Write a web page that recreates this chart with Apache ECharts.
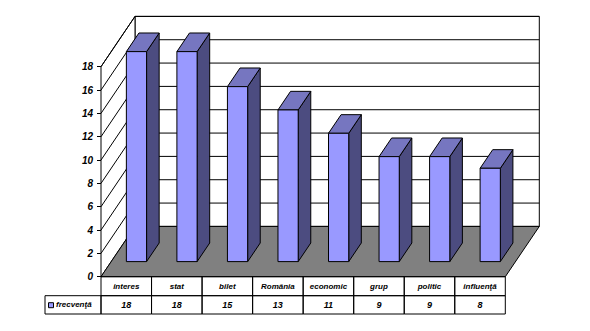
<!DOCTYPE html>
<html><head><meta charset="utf-8">
<script src="https://cdn.jsdelivr.net/npm/echarts@6/dist/echarts.min.js"></script>
<style>html,body{margin:0;padding:0;background:#fff}#c{width:590px;height:331px}</style>
</head><body><div id="c"></div>
<script>
// ---- data ----
const categories = ['interes', 'stat', 'bilet', 'România', 'economic', 'grup', 'politic', 'influenţă'];
const frecventa = [18, 18, 15, 13, 11, 9, 9, 8];
const seriesName = 'frecvenţă';
const yMin = 0, yMax = 18, yStep = 2;
const gridValues = [2, 4, 6, 8, 10, 12, 14, 16, 18];

// ---- style ----
const DX = 34, DY = -50.3;          // depth projection of the 3D box
const F0 = 0.30, F1 = 0.67;         // bar depth range (fraction of box depth)
const BARW = 0.4;                   // bar width fraction of category
const FRONT = '#9999FF', TOP = '#7676C0', SIDE = '#4C4C80', FLOOR = '#808080';
const FONT = 'Liberation Sans, Arial, sans-serif';
const ROW1 = 19, ROW2 = 18.3, LEGW = 56;

const chart = echarts.init(document.getElementById('c'), null, {renderer: 'svg'});

function renderBox(params, api) {
  const cs = params.coordSys;
  const L = cs.x, R = cs.x + cs.width;
  const y0 = api.coord([0, yMin])[1];
  const yT = api.coord([0, yMax])[1];
  const ln = {stroke: '#000', lineWidth: 1};
  const ch = [];
  // back wall
  ch.push({type: 'polygon', shape: {points: [[L + DX, yT + DY], [R + DX, yT + DY], [R + DX, y0 + DY], [L + DX, y0 + DY]]}, style: {fill: '#fff', stroke: '#000', lineWidth: 1}});
  // left wall
  ch.push({type: 'polygon', shape: {points: [[L, y0], [L, yT], [L + DX, yT + DY], [L + DX, y0 + DY]]}, style: {fill: '#fff', stroke: '#000', lineWidth: 1}});
  gridValues.forEach(v => {
    const y = api.coord([0, v])[1];
    ch.push({type: 'line', shape: {x1: L, y1: y, x2: L + DX, y2: y + DY}, style: ln});
    ch.push({type: 'line', shape: {x1: L + DX, y1: y + DY, x2: R + DX, y2: y + DY}, style: ln});
  });
  // floor
  ch.push({type: 'polygon', shape: {points: [[L, y0], [L + DX, y0 + DY], [R + DX, y0 + DY], [R, y0]]}, style: {fill: FLOOR, stroke: '#000', lineWidth: 1}});
  // legend cell of data table
  ch.push({type: 'rect', shape: {x: L - LEGW, y: y0 + ROW1, width: LEGW, height: ROW2}, style: {fill: 'none', stroke: '#000', lineWidth: 1}});
  ch.push({type: 'rect', shape: {x: L - LEGW + 3.5, y: y0 + ROW1 + 7, width: 5, height: 5}, style: {fill: FRONT, stroke: '#000', lineWidth: 1}});
  ch.push({type: 'text', style: {text: seriesName, x: L - LEGW + 11, y: y0 + ROW1 + ROW2 / 2, align: 'left', verticalAlign: 'middle', font: 'italic bold 8px ' + FONT, fill: '#000'}});
  return {type: 'group', children: ch};
}

function renderBar(params, api) {
  const i = api.value(0), v = api.value(1);
  const base = api.coord([i, 0]), top = api.coord([i, v]);
  const w = api.size([1, 0])[0] * BARW;
  const ox = DX * F0, oy = DY * F0, dx = DX * (F1 - F0), dy = DY * (F1 - F0);
  const x0 = base[0] - w / 2 + ox, x1 = x0 + w, yb = base[1] + oy, yt = top[1] + oy;
  const st = c => ({fill: c, stroke: '#000', lineWidth: 1});
  return {type: 'group', children: [
    {type: 'polygon', shape: {points: [[x1, yb], [x1, yt], [x1 + dx, yt + dy], [x1 + dx, yb + dy]]}, style: st(SIDE)},
    {type: 'polygon', shape: {points: [[x0, yt], [x1, yt], [x1 + dx, yt + dy], [x0 + dx, yt + dy]]}, style: st(TOP)},
    {type: 'rect', shape: {x: x0, y: yt, width: w, height: yb - yt}, style: st(FRONT)}
  ]};
}

function renderTable(params, api) {
  const i = api.value(0), v = api.value(1);
  const p = api.coord([i, 0]);
  const w = api.size([1, 0])[0];
  const x = p[0] - w / 2, y = p[1];
  const bs = {fill: 'none', stroke: '#000', lineWidth: 1};
  return {type: 'group', children: [
    {type: 'rect', shape: {x: x, y: y, width: w, height: ROW1}, style: bs},
    {type: 'rect', shape: {x: x, y: y + ROW1, width: w, height: ROW2}, style: bs},
    {type: 'text', style: {text: categories[i], x: p[0], y: y + ROW1 / 2 + 0.5, align: 'center', verticalAlign: 'middle', font: 'italic bold 8px ' + FONT, fill: '#000'}},
    {type: 'text', style: {text: String(v), x: p[0], y: y + ROW1 + ROW2 / 2, align: 'center', verticalAlign: 'middle', font: 'italic bold 9px ' + FONT, fill: '#000'}}
  ]};
}

const pts = frecventa.map((v, i) => [i, v]);

chart.setOption({
  animation: false,
  grid: {left: 101, right: 84.7, top: 66.7, bottom: 54.3, containLabel: false},
  xAxis: {type: 'category', data: categories, boundaryGap: true, show: false},
  yAxis: {
    type: 'value', min: yMin, max: yMax, interval: yStep,
    axisLine: {show: true, lineStyle: {color: '#000', width: 1}},
    axisTick: {show: true, length: 4, lineStyle: {color: '#000'}},
    splitLine: {show: false},
    axisLabel: {margin: 8, color: '#000', fontFamily: FONT, fontWeight: 'bold', fontStyle: 'italic', fontSize: 10}
  },
  series: [
    {type: 'custom', name: 'box', data: [[0, 0]], renderItem: renderBox, z: 1, silent: true},
    {type: 'custom', name: seriesName, data: pts, renderItem: renderBar, z: 3, encode: {x: 0, y: 1}},
    {type: 'custom', name: 'table', data: pts, renderItem: renderTable, z: 4, encode: {x: 0, y: 1}}
  ]
});
</script></body></html>
